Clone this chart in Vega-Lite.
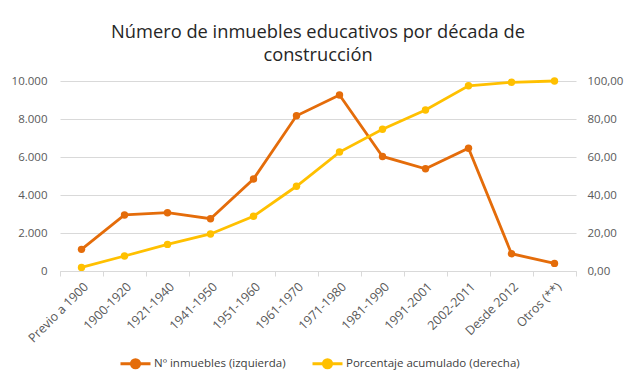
{
  "$schema": "https://vega.github.io/schema/vega-lite/v6.json",
  "autosize": {"type": "none"},
  "width": 516,
  "height": 190,
  "padding": {"left": 60, "top": 81, "right": 48, "bottom": 114},
  "background": "white",
  "config": {
    "locale": {"number": {"decimal": ",", "thousands": ".", "grouping": [3], "currency": ["", " €"]}},
    "font": "Open Sans",
    "view": {"stroke": null}
  },
  "title": {
    "text": ["Número de inmuebles educativos por década de", "construcción"],
    "fontSize": 18.3,
    "fontWeight": "normal",
    "font": "Open Sans",
    "color": "#262626",
    "lineHeight": 23,
    "offset": 10,
    "anchor": "middle"
  },
  "data": {
    "values": [
      {"decada": "Previo a 1900", "Nº inmuebles (izquierda)": 1140, "Porcentaje acumulado (derecha)": 1.9},
      {"decada": "1900-1920", "Nº inmuebles (izquierda)": 2950, "Porcentaje acumulado (derecha)": 7.9},
      {"decada": "1921-1940", "Nº inmuebles (izquierda)": 3070, "Porcentaje acumulado (derecha)": 14.0},
      {"decada": "1941-1950", "Nº inmuebles (izquierda)": 2750, "Porcentaje acumulado (derecha)": 19.5},
      {"decada": "1951-1960", "Nº inmuebles (izquierda)": 4840, "Porcentaje acumulado (derecha)": 28.8},
      {"decada": "1961-1970", "Nº inmuebles (izquierda)": 8170, "Porcentaje acumulado (derecha)": 44.6},
      {"decada": "1971-1980", "Nº inmuebles (izquierda)": 9260, "Porcentaje acumulado (derecha)": 62.6},
      {"decada": "1981-1990", "Nº inmuebles (izquierda)": 6030, "Porcentaje acumulado (derecha)": 74.6},
      {"decada": "1991-2001", "Nº inmuebles (izquierda)": 5380, "Porcentaje acumulado (derecha)": 84.7},
      {"decada": "2002-2011", "Nº inmuebles (izquierda)": 6460, "Porcentaje acumulado (derecha)": 97.5},
      {"decada": "Desde 2012", "Nº inmuebles (izquierda)": 910, "Porcentaje acumulado (derecha)": 99.3},
      {"decada": "Otros (**)", "Nº inmuebles (izquierda)": 400, "Porcentaje acumulado (derecha)": 100.0}
    ]
  },
  "encoding": {
    "x": {
      "field": "decada",
      "type": "nominal",
      "sort": null,
      "bandPosition": 0.5,
      "scale": {"type": "band", "paddingInner": 0, "paddingOuter": 0},
      "axis": {
        "title": null,
        "labelAngle": -45,
        "labelFontSize": 12.5,
        "labelColor": "#595959",
        "labelPadding": 4,
        "domainColor": "#d9d9d9",
        "tickColor": "#d9d9d9",
        "tickSize": 5,
        "tickBand": "extent",
        "grid": false
      }
    },
    "color": {
      "field": "serie",
      "type": "nominal",
      "scale": {
        "domain": ["Nº inmuebles (izquierda)", "Porcentaje acumulado (derecha)"],
        "range": ["#E46C0A", "#FFC000"]
      },
      "legend": {
        "title": null,
        "orient": "none",
        "direction": "horizontal",
        "legendX": 59,
        "legendY": 266,
        "symbolType": "M-1,0H1M0.27,0A0.27,0.27,0,1,1,-0.27,0A0.27,0.27,0,1,1,0.27,0Z",
        "symbolSize": 900,
        "symbolStrokeWidth": 3,
        "labelFontSize": 11.5,
        "labelLimit": 0,
        "labelColor": "#404040",
        "labelOffset": 2,
        "columnPadding": 20,
        "encode": {"symbols": {"update": {"fill": {"scale": "color", "field": "value"}, "fillOpacity": {"value": 1}}}}
      }
    }
  },
  "layer": [
    {
      "transform": [{"fold": ["Nº inmuebles (izquierda)"], "as": ["serie", "valor"]}],
      "mark": {"type": "line", "strokeWidth": 2.8, "point": {"filled": true, "size": 55}},
      "encoding": {
        "y": {
          "field": "valor",
          "type": "quantitative",
          "scale": {"domain": [0, 10000]},
          "axis": {
            "title": null,
            "values": [0, 2000, 4000, 6000, 8000, 10000],
            "format": ",.0f",
            "labelFontSize": 11.5,
            "labelColor": "#595959",
            "labelPadding": 13,
            "domain": false,
            "ticks": false,
            "grid": true,
            "gridColor": "#d9d9d9",
            "gridWidth": 1
          }
        }
      }
    },
    {
      "transform": [{"fold": ["Porcentaje acumulado (derecha)"], "as": ["serie", "valor"]}],
      "mark": {"type": "line", "strokeWidth": 2.8, "point": {"filled": true, "size": 55}},
      "encoding": {
        "y": {
          "field": "valor",
          "type": "quantitative",
          "scale": {"domain": [0, 100]},
          "axis": {
            "title": null,
            "orient": "right",
            "values": [0, 20, 40, 60, 80, 100],
            "format": ",.2f",
            "labelFontSize": 11.5,
            "labelColor": "#595959",
            "labelPadding": 11,
            "domain": false,
            "ticks": false,
            "grid": false
          }
        }
      }
    }
  ],
  "resolve": {"scale": {"y": "independent"}}
}
